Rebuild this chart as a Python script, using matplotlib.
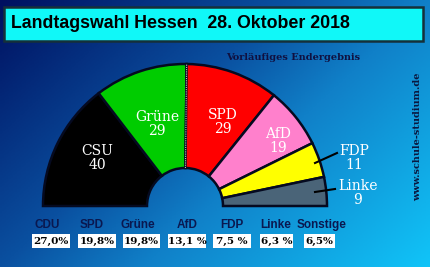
import numpy as np
import matplotlib
matplotlib.use("Agg")
import matplotlib.pyplot as plt
from matplotlib.patches import Wedge, Rectangle
from matplotlib.colors import LinearSegmentedColormap

# seats (Sitzverteilung)
parties = ["CSU", "Grüne", "SPD", "AfD", "FDP", "Linke"]
seats = [40, 29, 29, 19, 11, 9]
colors = ["#000000", "#00cc00", "#ff0000", "#ff80cc", "#ffff00", "#4a6478"]

# vote shares
vote_parties = ["CDU", "SPD", "Grüne", "AfD", "FDP", "Linke", "Sonstige"]
vote_pct = ["27,0%", "19,8%", "19,8%", "13,1 %", "7,5 %", "6,3 %", "6,5%"]

W, H = 430, 267
fig = plt.figure(figsize=(W / 100, H / 100), dpi=100)
ax = fig.add_axes([0, 0, 1, 1])
ax.set_xlim(0, W)
ax.set_ylim(H, 0)
ax.axis("off")

# background gradient
cmap = LinearSegmentedColormap.from_list(
    "bg", [(0, "#001060"), (0.4, "#0a50a0"), (0.6, "#1080c8"), (1, "#10c4f8")])
xx, yy = np.meshgrid(np.linspace(0, 1, 200), np.linspace(0, 1, 200))
ax.imshow(0.6 * xx + 0.4 * yy, cmap=cmap, extent=[0, W, H, 0], aspect="auto", zorder=0)

# title box
ax.add_patch(Rectangle((4, 7), 419, 34, facecolor="#10f8f8", edgecolor="#15303a", lw=1.8, zorder=2))
ax.text(11, 23.5, "Landtagswahl Hessen  28. Oktober 2018", fontsize=12.8, fontweight="bold",
        family="Liberation Sans", color="black", va="center", ha="left", zorder=3)

ax.text(293, 57, "Vorläufiges Endergebnis", fontsize=7, fontweight="bold",
        family="DejaVu Serif", color="#101040", ha="center", va="center", zorder=3)

# parliament half ring
cx, cy, r_out, r_in = 185, 206, 142, 38
total = sum(seats)
start = -180.0
for s, c in zip(seats, colors):
    end = start + s / total * 180.0
    ax.add_patch(Wedge((cx, cy), r_out, start, end, width=r_out - r_in,
                       facecolor=c, edgecolor="#050a20", lw=1.8, zorder=2))
    start = end

# dotted line between Grüne and SPD
a = np.deg2rad(-180 + 69 / total * 180)
ax.plot([cx + r_in * np.cos(a), cx + r_out * np.cos(a)],
        [cy + r_in * np.sin(a), cy + r_out * np.sin(a)],
        color="#c0c0c0", lw=0.8, ls=(0, (1, 1)), zorder=3)

label_pos = [(97, 158), (157, 124), (223, 122), (278, 141), (354, 158), (358, 193)]
for p, s, (lx, ly) in zip(parties, seats, label_pos):
    ax.text(lx, ly, f"{p}\n{s}", fontsize=10, family="DejaVu Serif", color="white",
            ha="center", va="center", linespacing=1.05, zorder=4)

# leader lines for the small segments
ax.plot([315, 337], [163, 153], color="black", lw=1.5, zorder=4)
ax.plot([315, 335], [192, 189], color="black", lw=1.5, zorder=4)

# vote shares row
name_x = [47, 92, 138, 187, 232, 276, 322]
box_x = [(32, 70), (78, 116), (123, 160), (168, 206), (213, 251), (260, 293), (304, 335)]
for n, pct, nx, (b0, b1) in zip(vote_parties, vote_pct, name_x, box_x):
    ax.text(nx, 225, n, fontsize=8.5, fontweight="bold", family="Liberation Sans",
            color="#0a1850", ha="center", va="center", zorder=3)
    ax.add_patch(Rectangle((b0, 234), b1 - b0, 14, facecolor="white", edgecolor="none", zorder=2))
    ax.text((b0 + b1) / 2, 241, pct, fontsize=7.5, fontweight="bold", family="DejaVu Serif",
            color="black", ha="center", va="center", zorder=3)

ax.text(418, 137, "www.schule-studium.de", rotation=90, fontsize=7, fontweight="bold",
        family="DejaVu Serif", color="#0a1840", ha="center", va="center", zorder=3)

fig.savefig("out.png", dpi=100)
